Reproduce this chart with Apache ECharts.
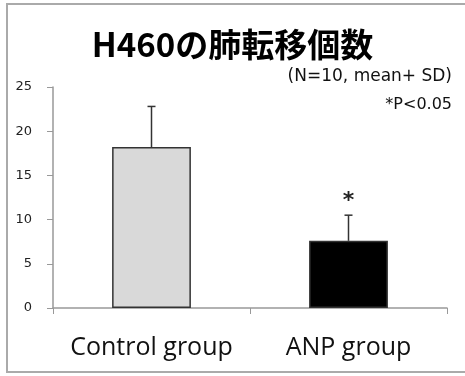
<!DOCTYPE html>
<html><head><meta charset="utf-8">
<script src="https://cdn.jsdelivr.net/npm/echarts@6/dist/echarts.min.js"></script>
<style>html,body{margin:0;padding:0;background:#fff;}#c{width:465px;height:376px;}</style>
</head><body><div id="c"></div>
<script>
const categories = ["Control group", "ANP group"];
const means = [18.2, 7.6];
const sds = [4.6, 2.9];
const barColors = ["#d9d9d9", "#000000"];
const sigMarks = ["", "*"];
const yTicks = [0, 5, 10, 15, 20, 25];

const chart = echarts.init(document.getElementById('c'), null, {renderer: 'canvas'});
const errData = categories.map((c, i) => [i, means[i], means[i] + sds[i], sigMarks[i]]);

chart.setOption({
  animation: false,
  backgroundColor: '#fff',
  title: {
    text: 'H460の肺転移個数',
    left: 'center', top: 23,
    textStyle: {fontFamily: '"Noto Sans CJK JP", sans-serif', fontWeight: 'bold', fontSize: 33, color: '#000'}
  },
  graphic: [
    {type: 'rect', shape: {x: 7, y: 4, width: 470, height: 368}, style: {fill: 'none', stroke: '#aaaaaa', lineWidth: 2}, silent: true},
    {type: 'text', right: 13, top: 68, style: {text: '(N=10, mean+ SD)', font: '17px "DejaVu Sans", sans-serif', fill: '#111'}},
    {type: 'text', right: 13, top: 97, style: {text: '*P<0.05', font: '16px "DejaVu Sans", sans-serif', fill: '#111'}}
  ],
  grid: {left: 53, right: 18, top: 87, bottom: 68},
  xAxis: {
    type: 'category', data: categories,
    axisLine: {lineStyle: {color: '#999', width: 1.5}},
    axisTick: {show: true, length: 6, lineStyle: {color: '#999'}},
    axisLabel: {interval: 0, hideOverlap: false, fontFamily: '"Open Sans", sans-serif', fontSize: 25, color: '#111', margin: 27}
  },
  yAxis: {
    type: 'value', min: yTicks[0], max: yTicks[yTicks.length - 1], interval: 5,
    axisLine: {show: true, lineStyle: {color: '#999', width: 1.5}},
    axisTick: {show: true, length: 6, lineStyle: {color: '#999'}},
    splitLine: {show: false},
    axisLabel: {fontFamily: '"DejaVu Sans", sans-serif', fontSize: 13, color: '#222', margin: 21}
  },
  series: [
    {
      type: 'bar', barWidth: '40%',
      data: means.map((v, i) => ({value: v, itemStyle: {color: barColors[i], borderColor: '#333', borderWidth: 1.5}})),
      z: 2
    },
    {
      type: 'custom', z: 3,
      data: errData,
      renderItem: function (params, api) {
        const x = api.value(0);
        const top = api.coord([x, api.value(2)]);
        const bot = api.coord([x, api.value(1)]);
        const half = 4;
        const children = [
          {type: 'line', shape: {x1: top[0], y1: top[1], x2: bot[0], y2: bot[1]}, style: {stroke: '#333', lineWidth: 1.5}},
          {type: 'line', shape: {x1: top[0] - half, y1: top[1], x2: top[0] + half, y2: top[1]}, style: {stroke: '#333', lineWidth: 1.5}}
        ];
        const mark = api.value(3);
        if (mark) {
          children.push({type: 'text', style: {text: mark, x: top[0], y: top[1] - 14, align: 'center', verticalAlign: 'middle', font: 'bold 22px "DejaVu Sans", sans-serif', fill: '#222'}});
        }
        return {type: 'group', children: children};
      }
    }
  ]
});
</script></body></html>
